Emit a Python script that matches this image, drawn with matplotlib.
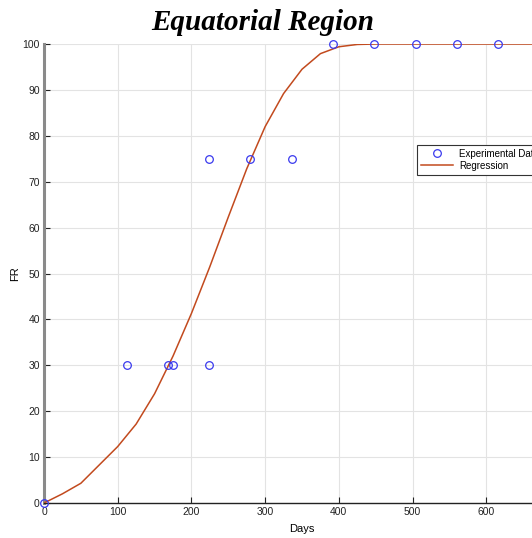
import matplotlib
matplotlib.use("Agg")
import matplotlib.pyplot as plt

# Observed fire-resistance measurements
days_obs = [0, 112, 168, 175, 224, 224, 280, 336, 392, 448, 504, 560, 616]
fr_obs = [0, 30, 30, 30, 30, 75, 75, 75, 100, 100, 100, 100, 100]

# Fitted regression curve, sampled every 25 days
days_fit = [0, 25, 50, 75, 100, 125, 150, 175, 200, 225, 250, 275, 300, 325,
            350, 375, 400, 425, 450, 475, 500, 525, 550, 575, 600, 625, 650,
            675, 700]
fr_fit = [0, 2.0, 4.3, 8.3, 12.3, 17.2, 23.8, 32.0, 41.3, 51.5, 62.3, 72.8,
          82.0, 89.2, 94.5, 97.9, 99.4, 99.9, 100, 100, 100, 100, 100, 100,
          100, 100, 100, 100, 100]

x_ticks = [0, 100, 200, 300, 400, 500, 600]
y_ticks = [0, 10, 20, 30, 40, 50, 60, 70, 80, 90, 100]

plt.rcParams['font.family'] = ['Liberation Sans', 'DejaVu Sans']

fig = plt.figure(figsize=(5.32, 5.38), dpi=100)
ax = fig.add_axes([44 / 532, 35 / 538, 516 / 532, 459 / 538])

ax.plot(days_fit, fr_fit, color='#c24a1e', lw=1.1, label='Regression', zorder=3)
ax.plot(days_obs, fr_obs, 'o', mfc='none', mec='#3a3aee', mew=0.9, ms=5.5,
        label='Experimental Data', zorder=4, clip_on=False)

ax.set_xlim(0, 700)
ax.set_ylim(0, 100)
ax.set_xticks(x_ticks)
ax.set_yticks(y_ticks)
ax.grid(True, color='#e3e3e3', lw=0.8)
ax.set_axisbelow(True)

for s in ('top', 'right'):
    ax.spines[s].set_visible(False)
ax.spines['left'].set_color('#8a8a8a')
ax.spines['left'].set_linewidth(2.2)
ax.spines['bottom'].set_color('#222222')
ax.spines['bottom'].set_linewidth(1.0)
ax.tick_params(direction='in', length=4, width=0.8, labelsize=7.5,
               colors='#222222', pad=3)

ax.set_xlabel('Days', fontsize=8, labelpad=5)
ax.set_ylabel('FR', fontsize=8, labelpad=2)
fig.text(263 / 532, 1 - 23 / 538, 'Equatorial Region', ha='center', va='center',
         fontsize=21, fontweight='bold', fontstyle='italic',
         family='Liberation Serif')

handles, labels = ax.get_legend_handles_labels()
leg = ax.legend(handles[::-1], labels[::-1], loc='upper left',
                bbox_to_anchor=(0.723, 0.78), fontsize=7, frameon=True,
                fancybox=False, edgecolor='#333333', framealpha=1,
                borderpad=0.4, handlelength=3.3, labelspacing=0.2,
                handletextpad=0.6, borderaxespad=0)
leg.get_frame().set_linewidth(0.8)

fig.savefig('out.png', dpi=100)
